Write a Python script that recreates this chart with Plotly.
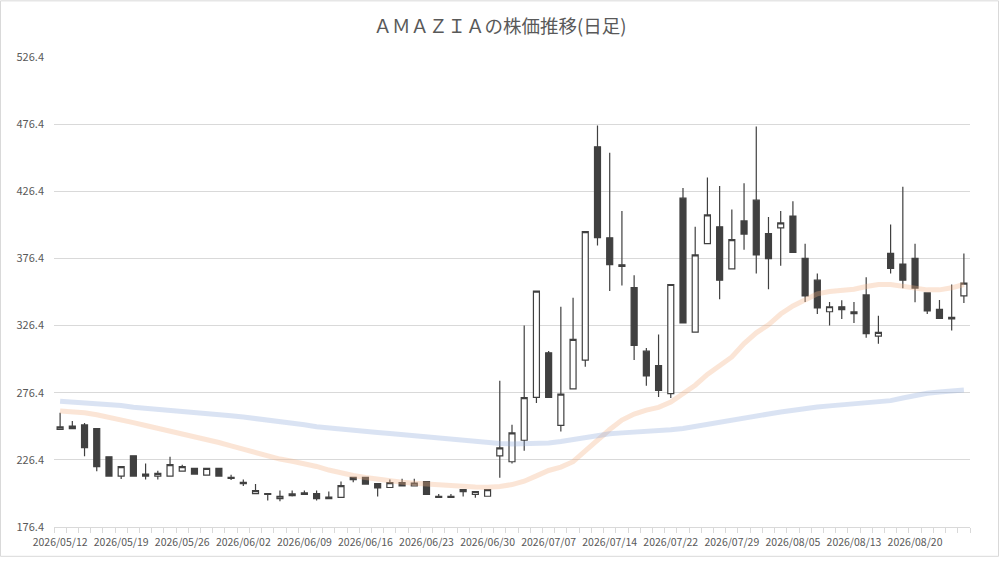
import plotly.graph_objects as go

# trading days (JP calendar, 7/20 and 8/11 are holidays)
dates = [
    "2026/05/12", "2026/05/13", "2026/05/14", "2026/05/15", "2026/05/18",
    "2026/05/19", "2026/05/20", "2026/05/21", "2026/05/22", "2026/05/25",
    "2026/05/26", "2026/05/27", "2026/05/28", "2026/05/29", "2026/06/01",
    "2026/06/02", "2026/06/03", "2026/06/04", "2026/06/05", "2026/06/08",
    "2026/06/09", "2026/06/10", "2026/06/11", "2026/06/12", "2026/06/15",
    "2026/06/16", "2026/06/17", "2026/06/18", "2026/06/19", "2026/06/22",
    "2026/06/23", "2026/06/24", "2026/06/25", "2026/06/26", "2026/06/29",
    "2026/06/30", "2026/07/01", "2026/07/02", "2026/07/03", "2026/07/06",
    "2026/07/07", "2026/07/08", "2026/07/09", "2026/07/10", "2026/07/13",
    "2026/07/14", "2026/07/15", "2026/07/16", "2026/07/17", "2026/07/21",
    "2026/07/22", "2026/07/23", "2026/07/24", "2026/07/27", "2026/07/28",
    "2026/07/29", "2026/07/30", "2026/07/31", "2026/08/03", "2026/08/04",
    "2026/08/05", "2026/08/06", "2026/08/07", "2026/08/10", "2026/08/12",
    "2026/08/13", "2026/08/14", "2026/08/17", "2026/08/18", "2026/08/19",
    "2026/08/20", "2026/08/21", "2026/08/24", "2026/08/25", "2026/08/26",
]

open_p = [
    249.1, 251.6, 252.4, 249.6, 228.7, 214.3, 229.4, 215.8, 214.3, 214.3,
    218.0, 220.0, 215.1, 220.0, 213.4, 209.7, 201.3, 201.3, 197.6, 201.0,
    201.8, 201.3, 198.6, 198.4, 213.4, 213.4, 208.7, 205.8, 209.5, 207.0,
    210.2, 199.3, 199.3, 204.3, 200.6, 199.3, 229.4, 225.0, 241.0, 273.0,
    306.1, 252.1, 279.3, 300.7, 459.5, 391.8, 371.7, 354.6, 307.3, 296.5,
    275.7, 421.3, 321.5, 387.4, 400.0, 368.6, 404.3, 419.8, 394.8, 399.2,
    408.0, 376.4, 360.2, 336.7, 340.4, 335.2, 349.2, 318.6, 380.1, 372.2,
    376.4, 350.7, 338.4, 332.5, 348.5,
]
high_p = [
    261.5, 255.3, 253.8, 249.8, 228.7, 221.3, 229.4, 223.7, 218.3, 228.7,
    222.8, 220.0, 220.0, 220.0, 215.4, 211.7, 208.4, 201.3, 203.5, 203.5,
    203.5, 203.5, 202.8, 210.2, 213.4, 213.4, 208.7, 211.7, 212.4, 212.4,
    210.2, 201.0, 201.0, 204.3, 202.8, 204.3, 285.4, 252.6, 326.4, 352.1,
    307.5, 340.4, 347.2, 396.3, 475.4, 455.1, 411.7, 363.9, 309.7, 319.8,
    357.0, 428.8, 399.9, 436.7, 430.3, 412.9, 432.3, 474.7, 407.3, 411.7,
    419.0, 387.4, 365.1, 344.0, 345.3, 344.0, 362.4, 333.8, 401.6, 429.8,
    387.4, 350.7, 345.5, 357.0, 380.1,
]
low_p = [
    248.7, 249.4, 229.1, 218.0, 214.3, 212.1, 214.3, 211.7, 211.7, 214.3,
    218.0, 215.8, 214.6, 214.3, 211.4, 207.0, 201.0, 196.1, 195.6, 199.1,
    200.6, 196.1, 197.6, 198.4, 209.7, 208.4, 199.1, 205.8, 206.5, 206.5,
    200.6, 198.4, 198.4, 199.1, 198.1, 199.3, 213.0, 223.6, 233.2, 268.8,
    273.0, 247.5, 279.3, 295.8, 386.0, 352.1, 356.3, 300.7, 281.5, 273.2,
    272.5, 328.4, 321.5, 387.4, 346.0, 368.6, 382.8, 365.1, 353.4, 371.0,
    380.8, 344.0, 335.0, 326.4, 331.3, 328.4, 317.3, 312.9, 365.1, 354.1,
    343.8, 335.0, 331.8, 322.7, 343.3,
]
close_p = [
    250.9, 249.6, 235.4, 221.3, 214.3, 221.3, 214.3, 214.3, 216.3, 222.8,
    221.3, 215.8, 220.0, 214.3, 212.6, 208.7, 203.5, 200.6, 199.3, 199.8,
    200.6, 197.6, 197.6, 207.2, 211.7, 208.4, 205.5, 209.5, 207.0, 209.0,
    200.6, 198.4, 198.4, 202.8, 202.8, 204.3, 235.3, 246.5, 272.8, 352.1,
    273.0, 275.4, 316.1, 396.3, 391.8, 371.7, 370.5, 311.7, 288.9, 278.1,
    357.0, 328.4, 379.1, 408.8, 360.2, 390.4, 394.5, 379.1, 376.2, 402.9,
    380.8, 348.5, 339.6, 340.4, 338.2, 336.7, 320.3, 321.3, 369.0, 360.2,
    354.3, 337.4, 331.8, 331.3, 358.0,
]

# moving averages
ma_short = [
    262.7, 262.4, 261.5, 260.0, 258.3, 256.2, 254.1, 252.0, 250.0, 248.0,
    246.0, 243.8, 241.6, 239.3, 236.8, 234.3, 231.7, 229.0, 227.0, 225.3,
    223.5, 221.5, 218.8, 216.5, 214.8, 213.2, 211.8, 210.6, 209.7, 209.0,
    208.3, 207.7, 207.2, 206.7, 206.2, 206.0, 206.5, 208.0, 210.5, 214.5,
    218.5, 221.0, 225.0, 233.0, 241.5, 249.0, 256.0, 260.5, 263.5, 265.5,
    269.5, 275.5, 282.0, 290.0, 296.0, 303.0, 313.0, 321.0, 327.0, 335.0,
    341.0, 345.5, 350.0, 351.7, 352.2, 353.5, 355.5, 357.0, 357.0, 355.8,
    354.3, 353.0, 353.0, 354.5, 357.0,
]
ma_long = [
    270.1, 269.5, 268.8, 268.2, 267.5, 266.8, 265.5, 264.8, 264.2, 263.5,
    263.0, 262.2, 261.2, 260.2, 259.3, 258.3, 257.3, 256.3, 255.0, 253.8,
    252.5, 251.0, 250.0, 249.0, 248.2, 247.5, 246.8, 246.0, 245.2, 244.4,
    243.5, 242.5, 241.5, 240.5, 239.5, 238.8, 238.5, 238.3, 238.4, 238.6,
    239.0, 240.0, 241.5, 243.0, 244.5, 245.8, 246.5, 247.0, 247.4, 247.8,
    248.8, 249.8, 251.2, 252.8, 254.3, 255.8, 257.5, 259.0, 260.5, 262.0,
    263.5, 264.8, 265.8, 266.6, 267.5, 268.5, 269.3, 269.8, 270.5, 272.5,
    274.5, 276.0, 277.0, 278.0, 278.5,
]

y_ticks = [176.4, 226.4, 276.4, 326.4, 376.4, 426.4, 476.4, 526.4]

title = "ＡＭＡＺＩＡの株価推移(日足)"

days = list(range(len(dates)))
dark = "#404040"
grey_txt = "#595959"
font_jp = "Noto Sans CJK JP"

fig = go.Figure()

fig.add_trace(go.Candlestick(
    x=days, open=open_p, high=high_p, low=low_p, close=close_p,
    increasing=dict(fillcolor="white", line=dict(color=dark, width=1.2)),
    decreasing=dict(fillcolor=dark, line=dict(color=dark, width=1.2)),
    whiskerwidth=0,
    showlegend=False,
))

fig.add_trace(go.Scatter(
    x=days, y=ma_short, mode="lines",
    line=dict(color="rgba(244,177,131,0.33)", width=5),
    showlegend=False,
))
fig.add_trace(go.Scatter(
    x=days, y=ma_long, mode="lines",
    line=dict(color="rgba(143,170,220,0.33)", width=5),
    showlegend=False,
))

L, R, T, B = 54, 30, 57, 31
W, H = 1000, 561
pw, ph = W - L - R, H - T - B

fig.update_layout(
    width=W, height=H,
    margin=dict(l=L, r=R, t=T, b=B),
    paper_bgcolor="white",
    plot_bgcolor="white",
    boxgap=0.3,
    title=dict(text=title, x=0.5, xanchor="center", y=1 - 27 / H, yanchor="middle",
               font=dict(family=font_jp, size=18.5, color=grey_txt)),
    font=dict(family=font_jp, color=grey_txt, size=10.5),
    shapes=[dict(type="rect", xref="paper", yref="paper",
                 x0=-(L - 0.5) / pw, x1=1 + (R - 1.5) / pw,
                 y0=-(B - 1.5) / ph, y1=1 + (T - 0.5) / ph,
                 line=dict(color="#d9d9d9", width=1), layer="below")],
)

fig.update_xaxes(
    range=[-0.5, len(dates) - 0.5],
    rangeslider=dict(visible=False),
    tickmode="array",
    tickvals=days[::5],
    ticktext=dates[::5],
    ticks="",
    ticklabelstandoff=5,
    showgrid=False,
    showline=True, linecolor="#d9d9d9", linewidth=1,
    tickfont=dict(family=font_jp, size=10.5, color=grey_txt),
    minor=dict(tickmode="linear", tick0=-0.5, dtick=1, ticks="outside",
               ticklen=5, tickcolor="#d9d9d9", showgrid=False),
    zeroline=False,
)

fig.update_yaxes(
    range=[y_ticks[0], y_ticks[-1]],
    tickmode="array",
    tickvals=y_ticks,
    ticktext=[f"{v:.1f}" for v in y_ticks],
    showgrid=True, gridcolor="#d9d9d9", gridwidth=1,
    showline=False, zeroline=False,
    ticks="",
    ticklabelstandoff=9,
    tickfont=dict(family=font_jp, size=11, color=grey_txt),
)

fig.write_html("out.html", config={"displayModeBar": False},
               post_script="document.body.style.margin='0px';")
